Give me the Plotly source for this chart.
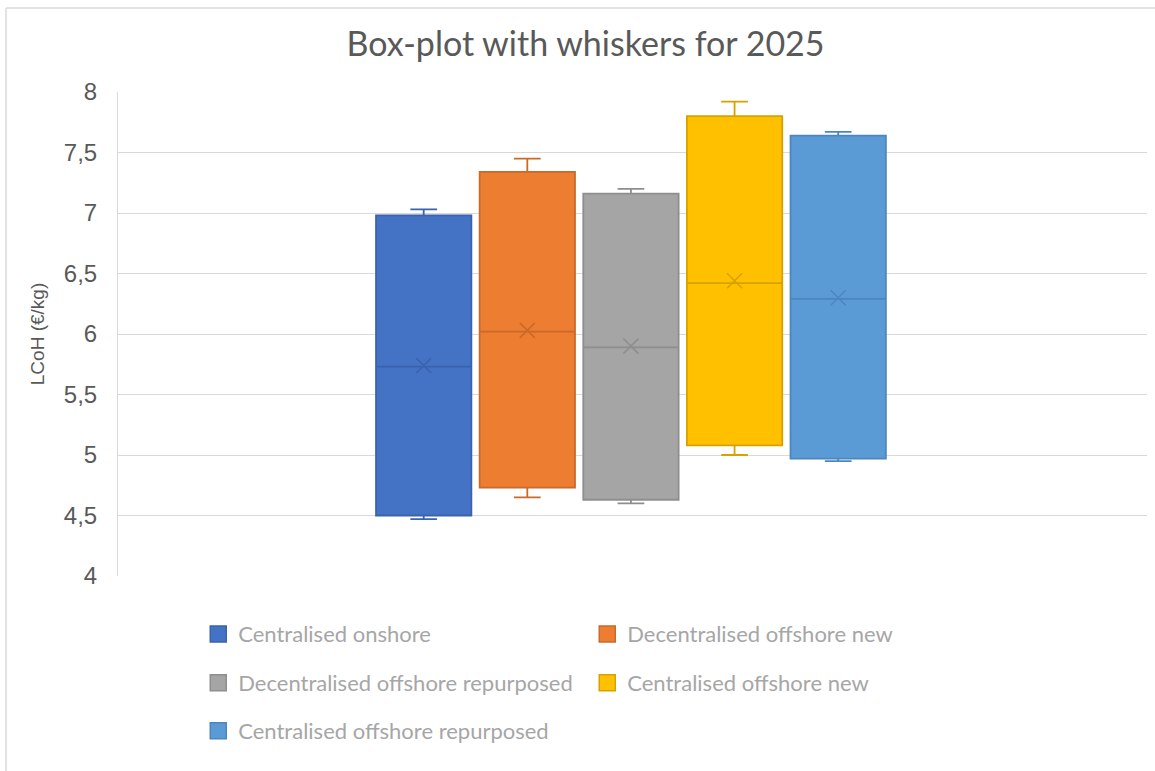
import plotly.graph_objects as go

# ---- data ----
series = ["Centralised onshore", "Decentralised offshore new",
          "Decentralised offshore repurposed", "Centralised offshore new",
          "Centralised offshore repurposed"]
minimum = [4.47, 4.65, 4.60, 5.00, 4.95]
q1 = [4.50, 4.73, 4.63, 5.08, 4.97]
median = [5.73, 6.02, 5.89, 6.42, 6.29]
mean = [5.74, 6.03, 5.90, 6.44, 6.30]
q3 = [6.98, 7.34, 7.16, 7.80, 7.64]
maximum = [7.03, 7.45, 7.20, 7.92, 7.67]
y_ticks = [4, 4.5, 5, 5.5, 6, 6.5, 7, 7.5, 8]

fills = ["#4472C4", "#ED7D31", "#A5A5A5", "#FFC000", "#5B9BD5"]
lines = ["#3A63AD", "#C96A2B", "#8E8E8E", "#D6A200", "#4C86BE"]
legend_of = ["legend", "legend", "legend2", "legend2", "legend3"]

fig = go.Figure()
for i, name in enumerate(series):
    fig.add_trace(go.Box(
        x=[name], q1=[q1[i]], median=[median[i]], q3=[q3[i]],
        lowerfence=[minimum[i]], upperfence=[maximum[i]],
        name=name, fillcolor=fills[i],
        line=dict(color=lines[i], width=1.8),
        whiskerwidth=0.28, showlegend=False, boxpoints=False,
    ))
    fig.add_trace(go.Scatter(
        x=[name], y=[mean[i]], mode="markers", showlegend=False,
        marker=dict(symbol="x-thin", size=15,
                    line=dict(color=lines[i], width=1.5)),
    ))
# legend swatches
for i, name in enumerate(series):
    fig.add_trace(go.Scatter(
        x=[None], y=[None], mode="markers", name=name,
        legend=legend_of[i],
        marker=dict(symbol="square", size=16, color=fills[i],
                    line=dict(color=lines[i], width=1.5)),
    ))

legend_font = dict(family="Lato", size=22, color="#A6A6A6")
common_leg = dict(orientation="h", xanchor="left", yanchor="middle",
                  entrywidth=344, font=legend_font, bgcolor="rgba(0,0,0,0)",
                  itemwidth=30)
fig.update_layout(
    width=1155, height=771,
    margin=dict(l=118, r=8, t=92, b=195),
    paper_bgcolor="white", plot_bgcolor="white",
    separators=", ",
    boxmode="overlay", boxgap=0.08, boxgroupgap=0,
    title=dict(text="Box-plot with whiskers for 2025", x=0.507, xanchor="center",
               y=0.943, yanchor="middle",
               font=dict(family="Lato", size=34, color="#595959")),
    xaxis=dict(range=[-2.95, 6.98], showticklabels=False, showgrid=False,
               zeroline=False, showline=False, fixedrange=True),
    yaxis=dict(range=[4, 8], tickvals=y_ticks, showgrid=True,
               gridcolor="#D9D9D9", gridwidth=1, zeroline=False,
               showline=True, linecolor="#D9D9D9", linewidth=1,
               ticks="", ticklabelstandoff=15,
               tickfont=dict(family="Liberation Sans", size=24, color="#595959"),
               title=dict(text="LCoH (€/kg)", standoff=14,
                          font=dict(family="Liberation Sans", size=19, color="#595959"))),
    legend=dict(x=0.078, y=-0.12, **common_leg),
    legend2=dict(x=0.078, y=-0.221, **common_leg),
    legend3=dict(x=0.078, y=-0.32, **common_leg),
    shapes=[
        dict(type="line", xref="paper", yref="paper", x0=-0.1088, x1=1.01,
             y0=1.1736, y1=1.1736, line=dict(color="#D9D9D9", width=1.5)),
        dict(type="line", xref="paper", yref="paper", x0=-0.1088, x1=-0.1088,
             y0=1.1736, y1=-0.41, line=dict(color="#D9D9D9", width=1.5)),
    ],
)
fig.write_html("out.html")
